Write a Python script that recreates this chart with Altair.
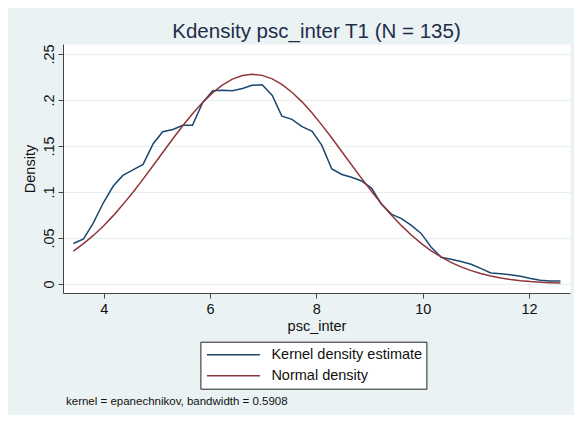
import altair as alt
import pandas as pd

# ---- data ----
x_grid = [3.43, 3.62, 3.80, 3.99, 4.18, 4.36, 4.55, 4.74, 4.93, 5.11,
          5.30, 5.49, 5.67, 5.86, 6.05, 6.23, 6.42, 6.61, 6.79, 6.98,
          7.17, 7.35, 7.54, 7.73, 7.92, 8.10, 8.29, 8.48, 8.66, 8.85,
          9.04, 9.22, 9.41, 9.60, 9.78, 9.97, 10.16, 10.35, 10.53, 10.72,
          10.91, 11.09, 11.28, 11.47, 11.65, 11.84, 12.03, 12.21, 12.40, 12.59]

kernel_density = [0.044, 0.049, 0.066, 0.088, 0.1065, 0.118, 0.124, 0.130, 0.1525, 0.1655,
                  0.168, 0.1725, 0.1725, 0.197, 0.210, 0.2105, 0.210, 0.2125, 0.216, 0.2165,
                  0.205, 0.1825, 0.179, 0.171, 0.166, 0.151, 0.125, 0.119, 0.116, 0.112,
                  0.104, 0.087, 0.076, 0.071, 0.064, 0.055, 0.040, 0.029, 0.027, 0.0245,
                  0.0215, 0.017, 0.012, 0.011, 0.010, 0.0085, 0.006, 0.004, 0.0033, 0.0033]

normal_density = [0.0357, 0.0438, 0.0525, 0.0628, 0.0743, 0.0863, 0.0998, 0.1140, 0.1288, 0.1430,
                  0.1579, 0.1723, 0.1851, 0.1974, 0.2080, 0.2162, 0.2227, 0.2267, 0.2280, 0.2268,
                  0.2230, 0.2170, 0.2085, 0.1980, 0.1858, 0.1730, 0.1587, 0.1438, 0.1296, 0.1148,
                  0.1005, 0.0876, 0.0750, 0.0634, 0.0535, 0.0442, 0.0361, 0.0291, 0.0235, 0.0186,
                  0.0145, 0.0113, 0.0086, 0.0065, 0.0049, 0.0036, 0.0026, 0.0019, 0.0014, 0.0010]

series_names = ["Kernel density estimate", "Normal density"]
series_colors = ["#1a476f", "#90353b"]
x_ticks = [4, 6, 8, 10, 12]
y_ticks = [0, 0.05, 0.10, 0.15, 0.20, 0.25]
title_text = "Kdensity psc_inter T1 (N = 135)"
note_text = "kernel = epanechnikov, bandwidth = 0.5908"

rows = []
for xv, kv in zip(x_grid, kernel_density):
    rows.append({"x": xv, "density": kv, "series": series_names[0], "order": 0})
for xv, nv in zip(x_grid, normal_density):
    rows.append({"x": xv, "density": nv, "series": series_names[1], "order": 1})
df = pd.DataFrame(rows)

FONT = "Liberation Sans"
TXT = "#111111"

lines = alt.Chart(df).mark_line(strokeWidth=1.5).encode(
    x=alt.X("x:Q",
            scale=alt.Scale(domain=[3.234, 12.77], nice=False, zero=False),
            axis=alt.Axis(values=x_ticks, title="psc_inter", grid=False,
                          labelPadding=4, titlePadding=4)),
    y=alt.Y("density:Q",
            scale=alt.Scale(domain=[-0.0098, 0.2609], nice=False, zero=False),
            axis=alt.Axis(values=y_ticks, title="Density", grid=True,
                          labelExpr="datum.value == 0 ? '0' : substring(format(datum.value, '.2~f'), 1)",
                          labelAngle=270, labelAlign="center", labelBaseline="alphabetic",
                          labelPadding=4.5, titlePadding=4)),
    color=alt.Color("series:N",
                    scale=alt.Scale(domain=series_names, range=series_colors),
                    legend=alt.Legend(title=None, orient="none", legendX=137.4, legendY=297.7,
                                      direction="vertical", symbolType="stroke",
                                      symbolSize=2809, symbolStrokeWidth=1.5,
                                      labelFontSize=14.5, labelFont=FONT, labelColor=TXT,
                                      strokeColor="#222222", fillColor="white", padding=4,
                                      clipHeight=18, rowPadding=3, labelOffset=10.5,
                                      symbolOffset=1.5)),
    order=alt.Order("order:Q"),
    detail="series:N",
)

note = alt.Chart(pd.DataFrame({"note": [note_text]})).mark_text(
    align="left", baseline="middle", fontSize=11.5, font=FONT, color=TXT
).encode(x=alt.value(3), y=alt.value(357.5), text="note:N")

chart = alt.layer(lines, note).properties(
    width=507, height=249,
    title=alt.TitleParams(title_text, fontSize=20.5, font=FONT, fontWeight="normal",
                          color="#1e2d4a", anchor="middle", baseline="alphabetic",
                          offset=7, dy=22),
    autosize=alt.AutoSizeParams(type="none"),
    padding={"left": 55, "top": 36, "right": 4, "bottom": 122},
    background="#eaf2f3",
).configure_view(fill="white", stroke="transparent").configure_axis(
    labelFont=FONT, titleFont=FONT, labelFontSize=14.5, titleFontSize=14.5,
    labelColor=TXT, titleColor=TXT, titleFontWeight="normal",
    domainColor="#444444", tickColor="#444444", tickSize=5, domainWidth=1,
    gridColor="#e6eef0", gridWidth=1,
)

chart.save("out.html", embed_options={"renderer": "svg", "actions": False})
